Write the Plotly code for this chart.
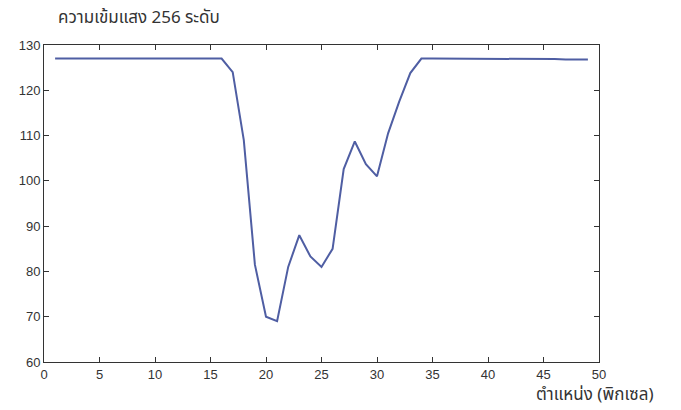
import plotly.graph_objects as go

# pixel positions along the row
x_pos = list(range(1, 50))
# intensity (256 levels)
intensity = [127, 127, 127, 127, 127, 127, 127, 127, 127, 127,
             127, 127, 127, 127, 127, 127, 124, 109, 81.5, 70,
             69, 81, 88, 83.3, 81, 85, 102.6, 108.7, 103.7, 101,
             110.5, 117.5, 123.8, 127, 127, 127, 127, 127, 127, 127,
             127, 127, 127, 126.9, 126.9, 126.9, 126.8, 126.8, 126.8]

x_ticks = [0, 5, 10, 15, 20, 25, 30, 35, 40, 45, 50]
y_ticks = [60, 70, 80, 90, 100, 110, 120, 130]

title_text = "ความเข้มแสง 256 ระดับ"
x_label = "ตำแหน่ง (พิกเซล)"

fig = go.Figure()
fig.add_trace(go.Scatter(x=x_pos, y=intensity, mode="lines",
                         line=dict(color="#4f5ea3", width=2), showlegend=False))

axis_common = dict(showgrid=False, zeroline=False, showline=True, linecolor="#333333",
                   linewidth=1, mirror="ticks", ticks="inside", ticklen=5,
                   tickcolor="#333333",
                   tickfont=dict(family="Liberation Sans, Arial, sans-serif", size=13, color="#333333"))

fig.update_xaxes(range=[0, 50], tickvals=x_ticks, **axis_common)
fig.update_yaxes(range=[60, 130], tickvals=y_ticks, **axis_common)

fig.update_layout(
    width=681, height=410,
    margin=dict(l=44, r=82, t=45, b=48),
    paper_bgcolor="white", plot_bgcolor="white",
    annotations=[
        dict(text=title_text, xref="paper", yref="paper", x=0.171, y=1.0,
             xanchor="center", yanchor="middle", yshift=27, showarrow=False,
             font=dict(family="Noto Sans Thai, DejaVu Sans, sans-serif", size=17, color="#333333")),
        dict(text=x_label, xref="paper", yref="paper", x=0.992, y=0,
             xanchor="center", yanchor="middle", yshift=-33, showarrow=False,
             font=dict(family="Noto Sans Thai, DejaVu Sans, sans-serif", size=17, color="#333333")),
    ],
)

fig.write_html("out.html")
